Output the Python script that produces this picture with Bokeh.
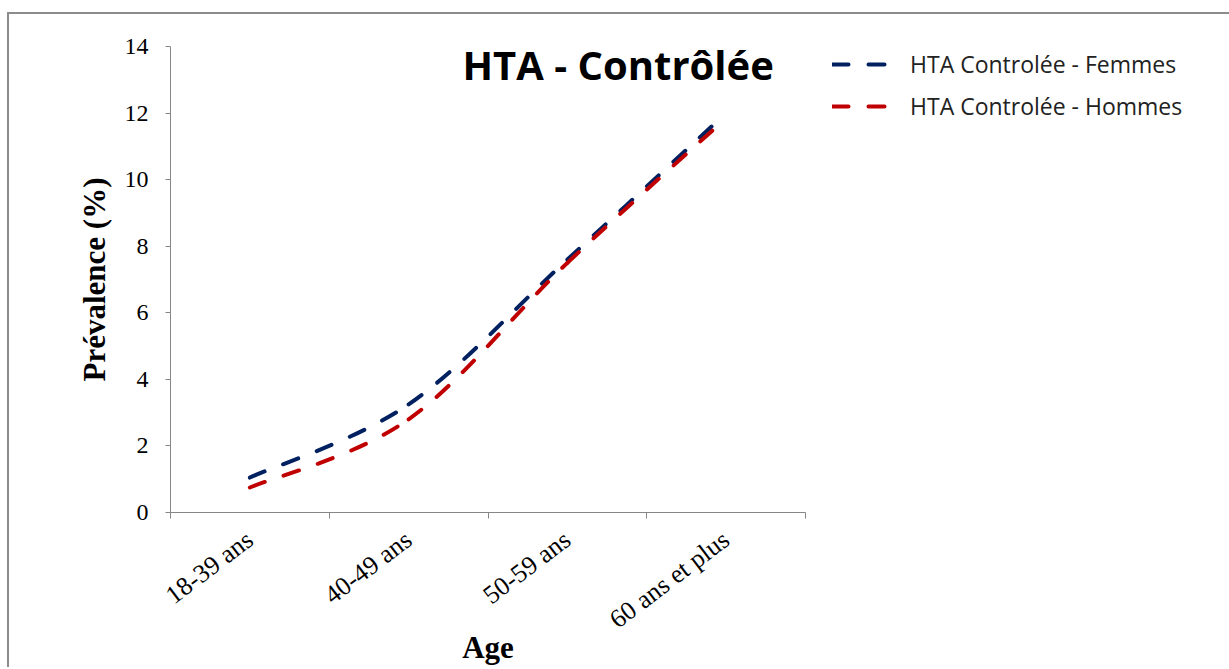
from bokeh.plotting import figure
from bokeh.models import Range1d, FixedTicker, Label, Legend, LegendItem, ColumnDataSource
from bokeh.embed import file_html
from bokeh.resources import INLINE

categories = ["18-39 ans", "40-49 ans", "50-59 ans", "60 ans et plus"]
femmes = [1.05, 3.25, 7.6, 12.0]
hommes = [0.75, 2.8, 7.5, 11.85]
y_ticks = [0, 2, 4, 6, 8, 10, 12, 14]

xs = [i + 0.5 for i in range(len(categories))]


def smooth_segments(vals):
    n = len(vals)
    pts = list(zip(xs, vals))
    d = dict(x0=[], y0=[], x1=[], y1=[], cx0=[], cy0=[], cx1=[], cy1=[])
    for i in range(n - 1):
        pm = pts[max(i - 1, 0)]
        pn = pts[min(i + 2, n - 1)]
        a, b = pts[i], pts[i + 1]
        d["x0"].append(a[0]); d["y0"].append(a[1])
        d["x1"].append(b[0]); d["y1"].append(b[1])
        d["cx0"].append(a[0] + (b[0] - pm[0]) / 6); d["cy0"].append(a[1] + (b[1] - pm[1]) / 6)
        d["cx1"].append(b[0] - (pn[0] - a[0]) / 6); d["cy1"].append(b[1] - (pn[1] - a[1]) / 6)
    return ColumnDataSource(d)


p = figure(frame_width=635, frame_height=466, output_backend="svg", toolbar_location=None,
           x_range=Range1d(0, len(categories)), y_range=Range1d(0, 14),
           min_border_left=161, min_border_top=32, min_border_right=90, min_border_bottom=150)
p.styles = {"margin-left": "7px", "margin-top": "12px",
            "border-left": "2px solid #8c8c8c", "border-top": "2px solid #8c8c8c"}
p.outline_line_color = None
p.xgrid.visible = False
p.ygrid.visible = False
p.background_fill_color = "white"
p.border_fill_color = "white"

axis_col = "#868686"
# x axis
p.xaxis.ticker = FixedTicker(ticks=xs, minor_ticks=list(range(len(categories) + 1)))
p.xaxis.major_label_overrides = {x: c for x, c in zip(xs, categories)}
p.xaxis.major_tick_out = 0
p.xaxis.major_tick_in = 0
p.xaxis.minor_tick_out = 6
p.xaxis.minor_tick_in = 0
p.xaxis.minor_tick_line_color = axis_col
p.xaxis.axis_line_color = axis_col
p.xaxis.major_label_orientation = 0.65
p.xaxis.major_label_text_font = "Liberation Serif"
p.xaxis.major_label_text_font_size = "26px"
p.xaxis.major_label_text_color = "black"
p.xaxis.major_label_standoff = 18
p.xaxis.axis_label = "Age"
p.xaxis.axis_label_text_font = "Liberation Serif"
p.xaxis.axis_label_text_font_style = "bold"
p.xaxis.axis_label_text_font_size = "31px"
p.xaxis.axis_label_text_color = "black"
p.xaxis.axis_label_standoff = -19

# y axis
p.yaxis.ticker = FixedTicker(ticks=y_ticks, minor_ticks=[])
p.yaxis.major_tick_out = 5
p.yaxis.major_tick_in = 0
p.yaxis.major_tick_line_color = axis_col
p.yaxis.axis_line_color = axis_col
p.yaxis.major_label_text_font = "Liberation Serif"
p.yaxis.major_label_text_font_size = "24px"
p.yaxis.major_label_text_color = "black"
p.yaxis.major_label_standoff = 17
p.yaxis.axis_label = "Prévalence (%)"
p.yaxis.axis_label_text_font = "Liberation Serif"
p.yaxis.axis_label_text_font_style = "bold"
p.yaxis.axis_label_text_font_size = "31px"
p.yaxis.axis_label_text_color = "black"
p.yaxis.axis_label_standoff = 10

blue = "#002060"
red = "#C00000"
rf = p.bezier(x0="x0", y0="y0", x1="x1", y1="y1", cx0="cx0", cy0="cy0", cx1="cx1", cy1="cy1",
              source=smooth_segments(femmes), line_color=blue, line_width=4,
              line_dash="16 20", line_cap="round")
rh = p.bezier(x0="x0", y0="y0", x1="x1", y1="y1", cx0="cx0", cy0="cy0", cx1="cx1", cy1="cy1",
              source=smooth_segments(hommes), line_color=red, line_width=4,
              line_dash="16 20", line_cap="round")

title = Label(x=2.82, y=13.46, text="HTA - Contrôlée", text_font="Open Sans",
              text_font_style="bold", text_font_size="40px", text_align="center",
              text_baseline="middle", text_color="black")
p.add_layout(title)

legend = Legend(items=[LegendItem(label="HTA Controlée - Femmes", renderers=[rf]),
                       LegendItem(label="HTA Controlée - Hommes", renderers=[rh])],
                location=(27, 390), orientation="vertical",
                glyph_width=56, glyph_height=20, label_height=20, label_standoff=22,
                spacing=10, padding=0, margin=0,
                label_text_font="Open Sans", label_text_font_size="23px",
                label_text_color="#222222",
                border_line_color=None, background_fill_alpha=0)
p.add_layout(legend, "right")

open("out.html", "w").write(file_html(p, INLINE))
